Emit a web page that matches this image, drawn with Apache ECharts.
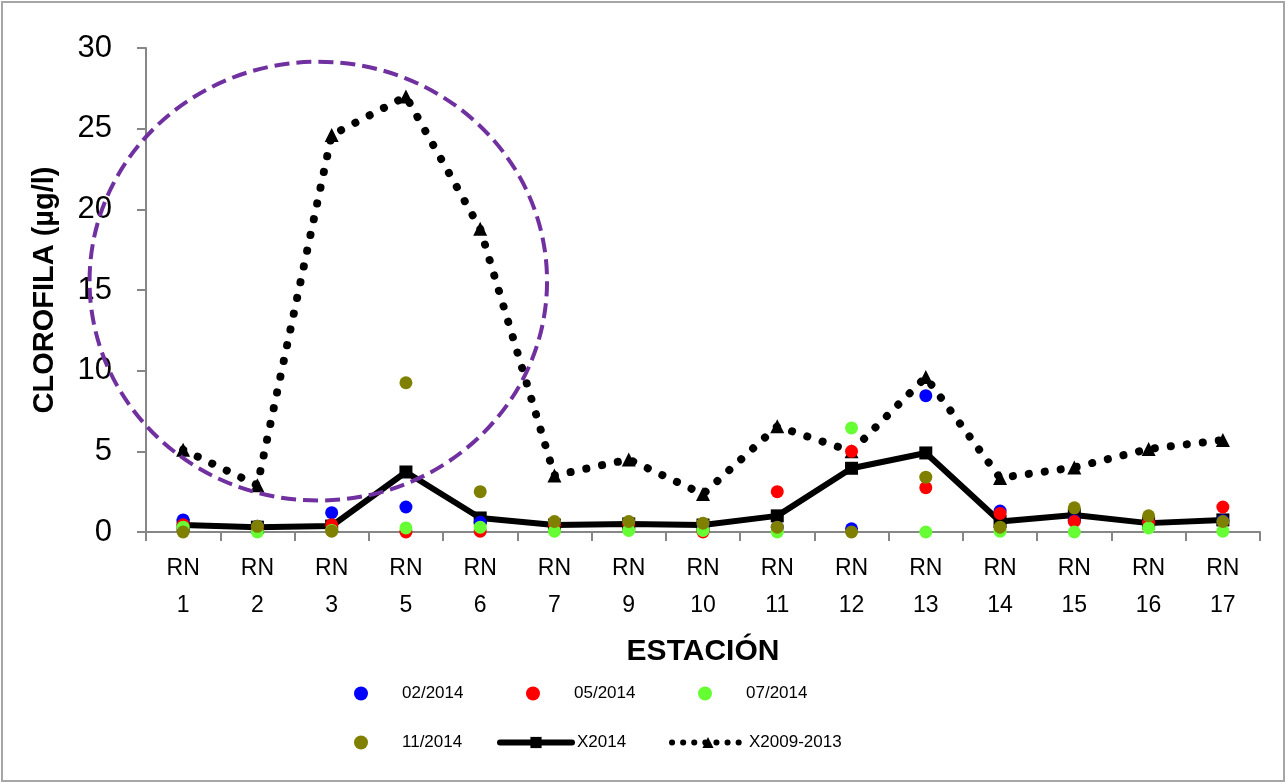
<!DOCTYPE html>
<html>
<head>
<meta charset="utf-8">
<script src="https://cdn.jsdelivr.net/npm/echarts@6/dist/echarts.min.js"></script>
<style>
html,body{margin:0;padding:0;background:#fff;}
#c{width:1286px;height:783px;}
</style>
</head>
<body>
<div id="c"></div>
<script>
// ---- data ----
const categories = ['RN 1','RN 2','RN 3','RN 5','RN 6','RN 7','RN 9','RN 10','RN 11','RN 12','RN 13','RN 14','RN 15','RN 16','RN 17'];
const s022014 = [0.75, 0.35, 1.2, 1.55, 0.6, 0.55, 0.6, 0.45, 0.3, 0.2, 8.45, 1.3, 0.7, 0.6, 0.7];
const s052014 = [0.45, 0.3, 0.45, 0.0, 0.05, 0.45, 0.5, 0.0, 2.5, 5.0, 2.75, 1.15, 0.65, 0.6, 1.55];
const s072014 = [0.3, 0.0, 0.1, 0.25, 0.3, 0.05, 0.1, 0.1, 0.0, 6.45, 0.0, 0.05, 0.0, 0.25, 0.05];
const s112014 = [0.0, 0.35, 0.05, 9.25, 2.5, 0.65, 0.65, 0.55, 0.3, 0.0, 3.4, 0.3, 1.5, 1.0, 0.65];
const x2014 = [0.43, 0.3, 0.37, 3.72, 0.87, 0.43, 0.5, 0.43, 1.0, 3.95, 4.9, 0.65, 1.05, 0.55, 0.75];
const x2009_2013 = [5.1, 2.9, 24.6, 27.0, 18.8, 3.5, 4.5, 2.35, 6.55, 5.0, 9.6, 3.35, 4.0, 5.15, 5.7];
const yTicks = {min: 0, max: 30, interval: 5};
// annotation ellipse in data units (category index, value)
const highlight = {cx: 1.82, cy: 15.55, rx: 3.08, ry: 13.6};

const FONT = '"Liberation Sans", Arial, sans-serif';
const chart = echarts.init(document.getElementById('c'), null, {renderer: 'canvas'});

function scatter(name, data, color) {
  return {name, type: 'scatter', data, symbol: 'circle', symbolSize: 13,
    itemStyle: {color, opacity: 1}, z: 5};
}
function legendAt(name, left, top, lineStyle) {
  const l = {data: [name], left, top, itemWidth: 72, itemHeight: 14, itemGap: 0,
    textStyle: {fontFamily: FONT, fontSize: 17, color: '#000'}, padding: 0, selectedMode: false};
  if (lineStyle) l.lineStyle = lineStyle;
  return l;
}

const option = {
  animation: false,
  backgroundColor: '#fff',
  grid: {left: 146, right: 26, top: 48, bottom: 251, containLabel: false},
  legend: [
    legendAt('02/2014', 354, 685),
    legendAt('05/2014', 526, 685),
    legendAt('07/2014', 698, 685),
    legendAt('11/2014', 354, 734),
    legendAt('X2014', 497, 734, {width: 6, cap: 'round'}),
    legendAt('X2009-2013', 669, 734, {width: 6, type: [0.1, 11], cap: 'round'})
  ],
  xAxis: {
    type: 'category', data: categories, boundaryGap: true,
    name: 'ESTACIÓN', nameLocation: 'middle', nameGap: 105,
    nameTextStyle: {fontFamily: FONT, fontWeight: 'bold', fontSize: 30, color: '#000'},
    axisLine: {lineStyle: {color: '#868686', width: 2}},
    axisTick: {show: true, alignWithLabel: false, length: 9, lineStyle: {color: '#868686', width: 2}},
    axisLabel: {interval: 0, fontFamily: FONT, fontSize: 23, color: '#000', lineHeight: 37, margin: 18,
      formatter: v => v.replace(' ', '\n')},
    splitLine: {show: false}
  },
  yAxis: {
    type: 'value', min: yTicks.min, max: yTicks.max, interval: yTicks.interval,
    name: 'CLOROFILA (µg/l)', nameLocation: 'middle', nameGap: 87, nameRotate: 90,
    nameTextStyle: {fontFamily: FONT, fontWeight: 'bold', fontSize: 29, color: '#000'},
    axisLine: {show: true, lineStyle: {color: '#868686', width: 2}},
    axisTick: {show: true, length: 9, lineStyle: {color: '#868686', width: 2}},
    axisLabel: {fontFamily: FONT, fontSize: 31, color: '#000', margin: 34},
    splitLine: {show: false}
  },
  series: [
    scatter('02/2014', s022014, '#0000FF'),
    scatter('05/2014', s052014, '#FF0000'),
    scatter('07/2014', s072014, '#66FF33'),
    scatter('11/2014', s112014, '#808000'),
    {name: 'X2014', type: 'line', data: x2014, symbol: 'rect', symbolSize: 13,
      lineStyle: {color: '#000', width: 6}, itemStyle: {color: '#000'}, z: 3},
    {name: 'X2009-2013', type: 'line', data: x2009_2013, symbol: 'triangle', symbolSize: 14,
      lineStyle: {color: '#000', width: 8, type: [0.1, 16], cap: 'round'}, itemStyle: {color: '#000'}, z: 2}
  ]
};
chart.setOption(option);

// annotation ellipse (positions interpolated from the axes) and outer frame
const a0 = chart.convertToPixel({gridIndex: 0}, [0, 0]);
const a1 = chart.convertToPixel({gridIndex: 0}, [1, 10]);
const step = a1[0] - a0[0], vstep = (a0[1] - a1[1]) / 10;
const cx = a0[0] + highlight.cx * step, cy = a0[1] - highlight.cy * vstep;
chart.setOption({
  graphic: [
    {type: 'ellipse', shape: {cx, cy, rx: highlight.rx * step, ry: highlight.ry * vstep},
      style: {fill: 'none', stroke: '#7030A0', lineWidth: 4, lineDash: [15, 7]}, z: 100},
    {type: 'rect', shape: {x: 2, y: 2, width: 1282, height: 779},
      style: {fill: 'none', stroke: '#A6A6A6', lineWidth: 2}, z: 100}
  ]
});
</script>
</body>
</html>
